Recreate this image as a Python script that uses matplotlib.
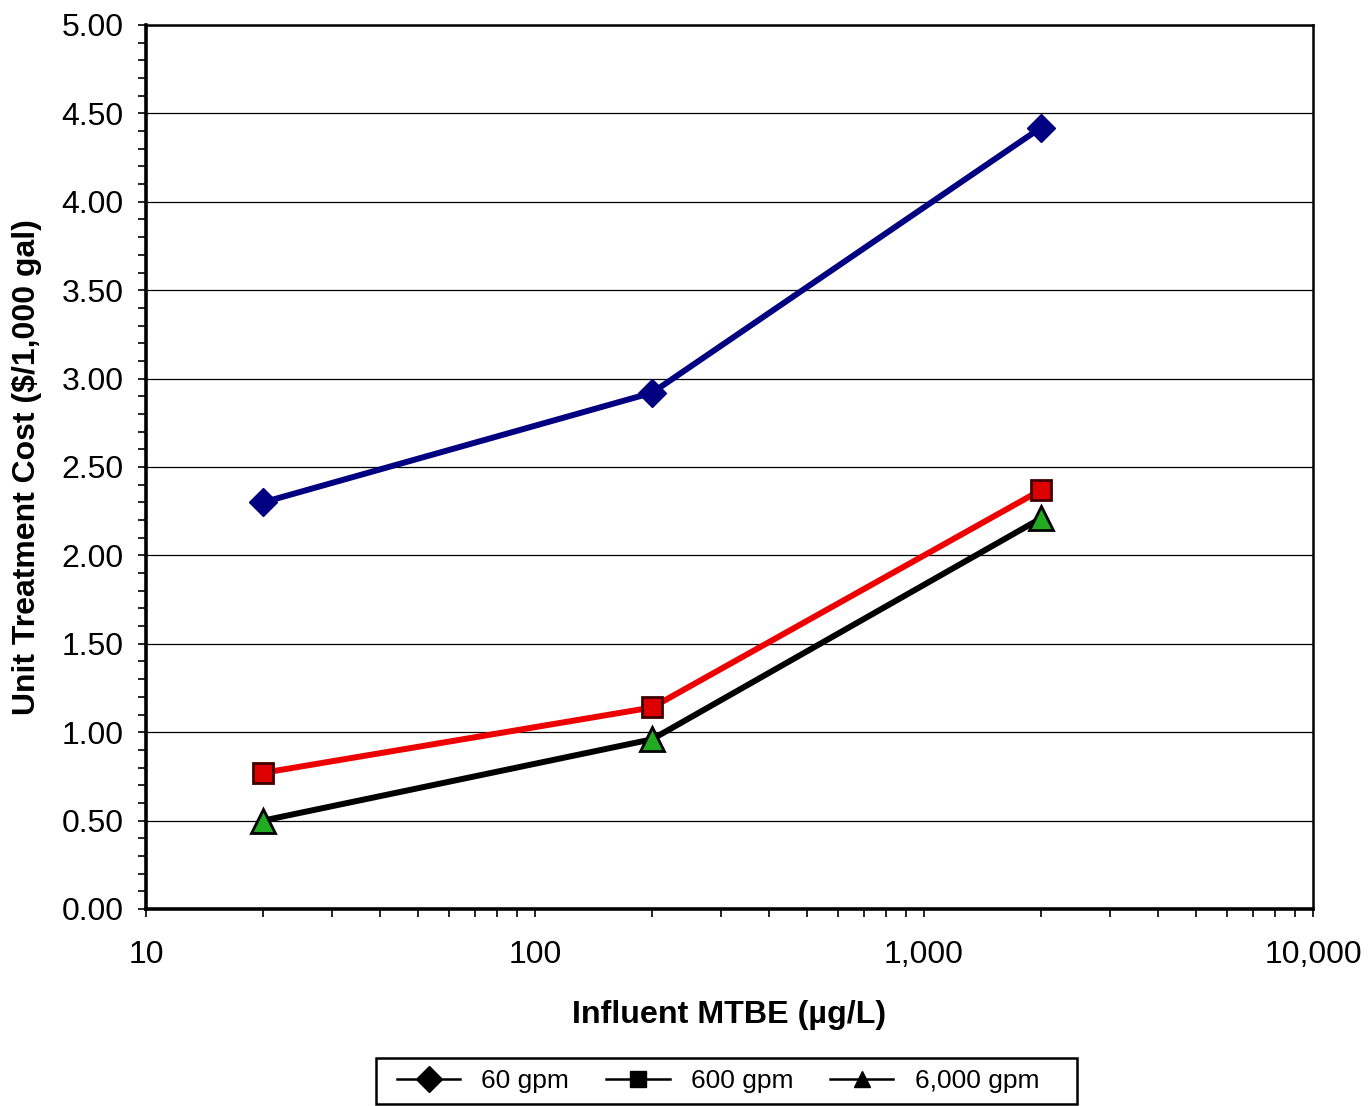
import matplotlib
matplotlib.use("Agg")
import matplotlib.pyplot as plt
from matplotlib.ticker import FixedLocator, FuncFormatter, MultipleLocator, LogLocator, NullFormatter
from matplotlib.lines import Line2D
from matplotlib.patches import Rectangle

plt.rcParams['font.family'] = ['Liberation Sans', 'DejaVu Sans']

mtbe = [20, 200, 2000]
cost_60 = [2.30, 2.92, 4.42]
cost_600 = [0.77, 1.14, 2.37]
cost_6000 = [0.50, 0.96, 2.21]
labels = ["60 gpm", "600 gpm", "6,000 gpm"]
x_ticks = [10, 100, 1000, 10000]
x_ticklabels = ["10", "100", "1,000", "10,000"]

W, H = 1372, 1106
fig = plt.figure(figsize=(W/100, H/100), dpi=100)
ax = fig.add_axes([146/W, 1 - 909/H, (1313-146)/W, (909-25)/H])

ax.plot(mtbe, cost_60, color='#000080', lw=4.3, marker='D', ms=14,
        mfc='#000080', mec='#000080', zorder=5)
ax.plot(mtbe, cost_600, color='#ee0000', lw=4.3, marker='s', ms=15,
        mfc='#dd0000', mec='#400000', mew=2.0, zorder=5)
ax.plot(mtbe, cost_6000, color='black', lw=4.3, marker='^', ms=17,
        mfc='#22aa22', mec='black', mew=2.0, zorder=6)

ax.set_xscale('log')
ax.set_xlim(10, 10000)
ax.set_ylim(0, 5)
ax.xaxis.set_major_locator(FixedLocator(x_ticks))
ax.set_xticklabels(x_ticklabels)
ax.xaxis.set_minor_locator(LogLocator(base=10, subs=range(2, 10)))
ax.xaxis.set_minor_formatter(NullFormatter())
ax.yaxis.set_major_locator(MultipleLocator(0.5))
ax.yaxis.set_minor_locator(MultipleLocator(0.1))
ax.yaxis.set_major_formatter(FuncFormatter(lambda v, p: f"{v:.2f}"))

ax.grid(axis='y', which='major', color='black', lw=0.9)
ax.set_axisbelow(True)

ax.tick_params(axis='both', which='both', direction='out', length=6, width=1.2, labelsize=23)
ax.tick_params(axis='x', which='major', pad=16)
ax.tick_params(axis='y', which='major', pad=10)
for s in ['left', 'bottom']:
    ax.spines[s].set_linewidth(2.6)
for s in ['top', 'right']:
    ax.spines[s].set_linewidth(1.8)

ax.set_xlabel("Influent MTBE (µg/L)", fontsize=23.2, fontweight='bold', labelpad=22)
ax.set_ylabel("Unit Treatment Cost ($/1,000 gal)", fontsize=23, fontweight='bold', labelpad=14)

handles = [
    Line2D([], [], color='black', lw=1.8, marker='D', ms=13, mfc='black', mec='black'),
    Line2D([], [], color='black', lw=1.8, marker='s', ms=11, mfc='black', mec='black'),
    Line2D([], [], color='black', lw=1.8, marker='^', ms=12, mfc='black', mec='black'),
]
leg = fig.legend(handles, labels, loc='center', bbox_to_anchor=(718/W, 1 - 1081/H),
                 ncol=3, fontsize=19, frameon=False,
                 handlelength=2.4, columnspacing=1.4, handletextpad=0.8, borderpad=0.3)

box = Rectangle((376/W, 1 - 1104/H), (1077-376)/W, (1104-1058)/H, transform=fig.transFigure,
                fill=False, edgecolor='black', lw=1.8)
fig.add_artist(box)

fig.savefig("out.png", dpi=100)
